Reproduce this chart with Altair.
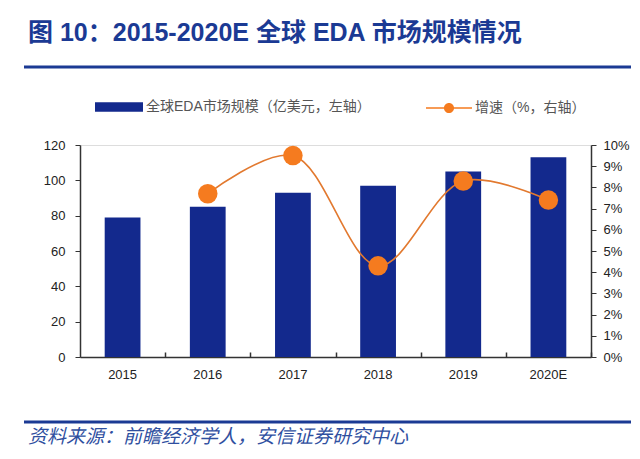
import altair as alt
import pandas as pd

# data
years = ["2015", "2016", "2017", "2018", "2019", "2020E"]
market_size = [79, 85, 93, 97, 105, 113]          # 亿美元, left axis
growth_years = ["2016", "2017", "2018", "2019", "2020E"]
growth_pct = [7.7, 9.5, 4.3, 8.3, 7.4]            # %, right axis

left_ticks = [0, 20, 40, 60, 80, 100, 120]
right_ticks = [i / 100 for i in range(11)]

title_text = "图 10：2015-2020E 全球 EDA 市场规模情况"
bar_label = "全球EDA市场规模（亿美元，左轴）"
line_label = "增速（%，右轴）"
source_text = "资料来源：前瞻经济学人，安信证券研究中心"

NAVY = "#13298d"
ORANGE = "#f57b1f"
LINE_ORANGE = "#e2792f"
TITLE_BLUE = "#1b3a94"
AXIS = "#333333"
FONT = "Liberation Sans, Arial, Noto Sans CJK SC, sans-serif"

W, H = 511, 212
STEP = W / len(years)

bar_df = pd.DataFrame({"year": years, "size": market_size, "key": bar_label})
line_df = pd.DataFrame({"year": growth_years,
                        "growth": [g / 100 for g in growth_pct],
                        "key": line_label})

x_scale = alt.Scale(domain=years, paddingInner=0.58, paddingOuter=0.29)
growth_scale = alt.Scale(domain=[0, 0.1])

bars = alt.Chart(bar_df).mark_bar(color=NAVY).encode(
    x=alt.X("year:N", scale=x_scale, title=None,
            axis=alt.Axis(labelAngle=0, ticks=False, domainColor=AXIS, domainWidth=1.5,
                          labelFont=FONT, labelFontSize=13, labelColor="#222",
                          labelPadding=11)),
    y=alt.Y("size:Q", scale=alt.Scale(domain=[0, 120]), title=None,
            axis=alt.Axis(orient="left", values=left_ticks, grid=False, domainColor=AXIS,
                          domainWidth=1.5, tickColor=AXIS, tickSize=5, labelPadding=10,
                          labelFont=FONT, labelFontSize=13, labelColor="#222")),
    color=alt.Color("key:N", scale=alt.Scale(domain=[bar_label], range=[NAVY]),
                    legend=alt.Legend(title=None, orient="none", legendX=15, legendY=-62,
                                      symbolType="M-1,-0.2H1V0.2H-1Z", symbolSize=2304,
                                      symbolStrokeWidth=0, labelFont=FONT, labelFontSize=14,
                                      labelColor="#555", labelOffset=3, labelLimit=400,
                                      padding=0)),
)

# second x axis drawn at the bottom only for the small upward ticks between the bars
line = alt.Chart(line_df).mark_line(interpolate="catmull-rom", color=LINE_ORANGE,
                                    strokeWidth=1.6).encode(
    x=alt.X("year:N", scale=x_scale, title=None,
            axis=alt.Axis(orient="top", offset=-H, labels=False, domain=False,
                          tickBand="center", tickOffset=STEP / 2, tickSize=5,
                          tickColor=AXIS, tickWidth=1.5)),
    y=alt.Y("growth:Q", scale=growth_scale, title=None,
            axis=alt.Axis(orient="right", values=right_ticks, format=".0%", grid=False,
                          domainColor=AXIS, domainWidth=1.5, tickColor=AXIS, tickSize=5,
                          labelPadding=7, labelFont=FONT, labelFontSize=13,
                          labelColor="#222")),
)

points = alt.Chart(line_df).mark_circle(size=380, opacity=1).encode(
    x=alt.X("year:N", scale=x_scale, axis=None),
    y=alt.Y("growth:Q", scale=growth_scale, axis=None),
    fill=alt.Fill("key:N", scale=alt.Scale(domain=[line_label], range=[ORANGE]),
                  legend=alt.Legend(title=None, orient="none", legendX=346, legendY=-60,
                                    symbolType="M-1,-0.035H1V0.035H-1Z"
                                               "M-0.22,0A0.22,0.22,0,1,1,0.22,0"
                                               "A0.22,0.22,0,1,1,-0.22,0Z",
                                    symbolSize=2116, symbolStrokeWidth=0, symbolOpacity=1,
                                    labelFont=FONT, labelFontSize=14, labelColor="#555",
                                    labelOffset=3, labelLimit=300, padding=0)),
)

blank = alt.Data(values=[{}])

title = alt.Chart(blank).mark_text(
    text=title_text, align="left", baseline="middle", font=FONT, fontSize=25,
    fontWeight="bold", color=TITLE_BLUE,
).encode(x=alt.value(-52), y=alt.value(-112))

top_rule = alt.Chart(blank).mark_rule(color=TITLE_BLUE, strokeWidth=3).encode(
    x=alt.value(-56), x2=alt.value(552), y=alt.value(-78))

bottom_rule = alt.Chart(blank).mark_rule(color=TITLE_BLUE, strokeWidth=3).encode(
    x=alt.value(-56), x2=alt.value(552), y=alt.value(277))

source = alt.Chart(blank).mark_text(
    text=source_text, align="left", baseline="middle", font=FONT, fontSize=19,
    fontStyle="italic", color="#2f4f9f",
).encode(x=alt.value(-52), y=alt.value(292))

chart = alt.layer(bars, line, points, title, top_rule, bottom_rule, source).resolve_scale(
    y="independent"
).resolve_axis(
    x="independent"
).properties(
    width=W, height=H,
    autosize=alt.AutoSizeParams(type="none"),
    padding={"left": 72, "top": 137, "right": 40, "bottom": 95},
).configure_view(stroke=None).configure(background="white")

chart.save("out.html", embed_options={"renderer": "svg", "actions": False})
